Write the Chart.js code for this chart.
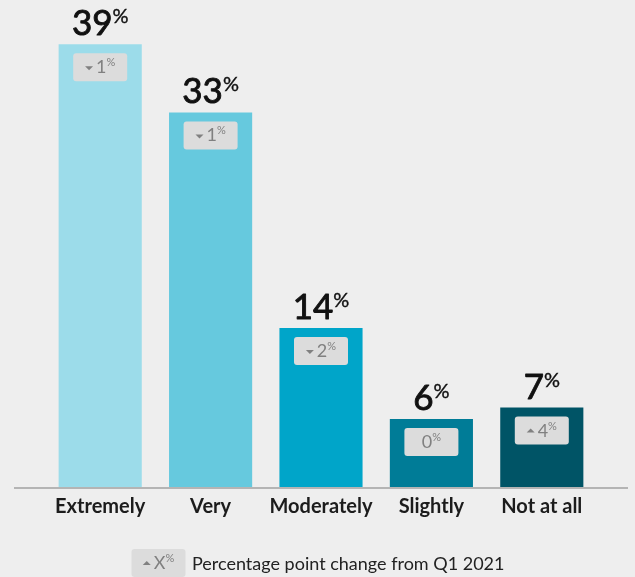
<!DOCTYPE html>
<html>
<head>
<meta charset="utf-8">
<script src="https://cdn.jsdelivr.net/npm/chart.js@4.4.0/dist/chart.umd.min.js"></script>
<style>
  html, body { margin: 0; padding: 0; background: #eeeeee; }
  #wrap { width: 635px; height: 577px; }
</style>
</head>
<body>
<div id="wrap"><canvas id="concernChart" width="635" height="577"></canvas></div>
<script>
// share of respondents by level, and change in points vs Q1 2021
var categories = ['Extremely', 'Very', 'Moderately', 'Slightly', 'Not at all'];
var shares = [39, 33, 14, 6, 7];
var changes = [-1, -1, -2, 0, 4];
var barColors = ['#9cdcea', '#66c9de', '#00a5c9', '#007c97', '#005466'];
var legendText = 'Percentage point change from Q1 2021';

var FONT = 'Lato, "Noto Sans", sans-serif';

function roundRect(ctx, x, y, w, h, r) {
  ctx.beginPath();
  ctx.moveTo(x + r, y);
  ctx.lineTo(x + w - r, y);
  ctx.quadraticCurveTo(x + w, y, x + w, y + r);
  ctx.lineTo(x + w, y + h - r);
  ctx.quadraticCurveTo(x + w, y + h, x + w - r, y + h);
  ctx.lineTo(x + r, y + h);
  ctx.quadraticCurveTo(x, y + h, x, y + h - r);
  ctx.lineTo(x, y + r);
  ctx.quadraticCurveTo(x, y, x + r, y);
  ctx.closePath();
}

// grey pill with an arrow and "N%" centred on cx
function drawBadge(ctx, cx, top, change, label) {
  ctx.fillStyle = '#dcdcdc';
  roundRect(ctx, cx - 27, top, 54, 28, 3);
  ctx.fill();

  var txt = label !== undefined ? label : String(Math.abs(change));
  ctx.font = '18px ' + FONT;
  var wNum = ctx.measureText(txt).width;
  ctx.font = '11px ' + FONT;
  var wPct = ctx.measureText('%').width;
  var triW = change !== 0 ? 8 : 0;
  var gap = change !== 0 ? 3 : 0;
  var total = triW + gap + wNum + wPct;
  var x = cx - total / 2;
  var base = top + 20;

  ctx.fillStyle = '#808080';
  if (change < 0) {
    ctx.beginPath();
    ctx.moveTo(x, base - 7);
    ctx.lineTo(x + triW, base - 7);
    ctx.lineTo(x + triW / 2, base - 3);
    ctx.closePath();
    ctx.fill();
  } else if (change > 0) {
    ctx.beginPath();
    ctx.moveTo(x, base - 4);
    ctx.lineTo(x + triW, base - 4);
    ctx.lineTo(x + triW / 2, base - 8);
    ctx.closePath();
    ctx.fill();
  }
  x += triW + gap;
  ctx.textAlign = 'left';
  ctx.textBaseline = 'alphabetic';
  ctx.font = '18px ' + FONT;
  ctx.fillText(txt, x, base);
  ctx.font = '11px ' + FONT;
  ctx.fillText('%', x + wNum, base - 7);
}

var labelsPlugin = {
  id: 'barLabels',
  afterDatasetsDraw: function(chart) {
    var ctx = chart.ctx;
    var yScale = chart.scales.y;
    var y0 = yScale.getPixelForValue(0);
    var meta = chart.getDatasetMeta(0);

    ctx.save();
    // baseline
    ctx.strokeStyle = '#b4b4b4';
    ctx.lineWidth = 2;
    ctx.beginPath();
    ctx.moveTo(14, y0 + 1);
    ctx.lineTo(628, y0 + 1);
    ctx.stroke();

    meta.data.forEach(function(bar, i) {
      var cx = bar.x;
      var top = bar.y;

      // value above bar, slightly heavier than regular
      var num = String(shares[i]);
      ctx.font = '35px ' + FONT;
      var wNum = ctx.measureText(num).width;
      ctx.font = '20px ' + FONT;
      var wPct = ctx.measureText('%').width;
      var x = cx - (wNum + wPct) / 2;
      ctx.fillStyle = '#111111';
      ctx.strokeStyle = '#111111';
      ctx.lineWidth = 0.9;
      ctx.lineJoin = 'round';
      ctx.textAlign = 'left';
      ctx.textBaseline = 'alphabetic';
      ctx.font = '35px ' + FONT;
      ctx.fillText(num, x, top - 9);
      ctx.strokeText(num, x, top - 9);
      ctx.font = '20px ' + FONT;
      ctx.fillText('%', x + wNum, top - 21);
      ctx.lineWidth = 0.4;
      ctx.strokeText('%', x + wNum, top - 21);

      // change badge inside bar
      drawBadge(ctx, cx, top + 9, changes[i]);

      // category label
      ctx.fillStyle = '#1c1c1c';
      ctx.font = 'bold 20px ' + FONT;
      ctx.textAlign = 'center';
      ctx.textBaseline = 'middle';
      ctx.fillText(categories[i], cx, y0 + 20);
    });

    // legend key
    drawBadge(ctx, 158.5, 549, 1, 'X');
    ctx.fillStyle = '#222222';
    ctx.font = '18px ' + FONT;
    ctx.textAlign = 'left';
    ctx.textBaseline = 'middle';
    ctx.fillText(legendText, 192, 564);
    ctx.restore();
  }
};

var ctx = document.getElementById('concernChart').getContext('2d');
var chart = new Chart(ctx, {
  type: 'bar',
  data: {
    labels: categories,
    datasets: [{
      data: shares,
      backgroundColor: barColors,
      borderWidth: 0,
      barPercentage: 0.753,
      categoryPercentage: 1
    }]
  },
  options: {
    responsive: false,
    animation: false,
    layout: { padding: { left: 45, right: 38, top: 33, bottom: 90 } },
    plugins: {
      legend: { display: false },
      tooltip: { enabled: false }
    },
    scales: {
      x: { display: false },
      y: { display: false, min: 0, max: 40 }
    }
  },
  plugins: [labelsPlugin]
});
</script>
</body>
</html>
